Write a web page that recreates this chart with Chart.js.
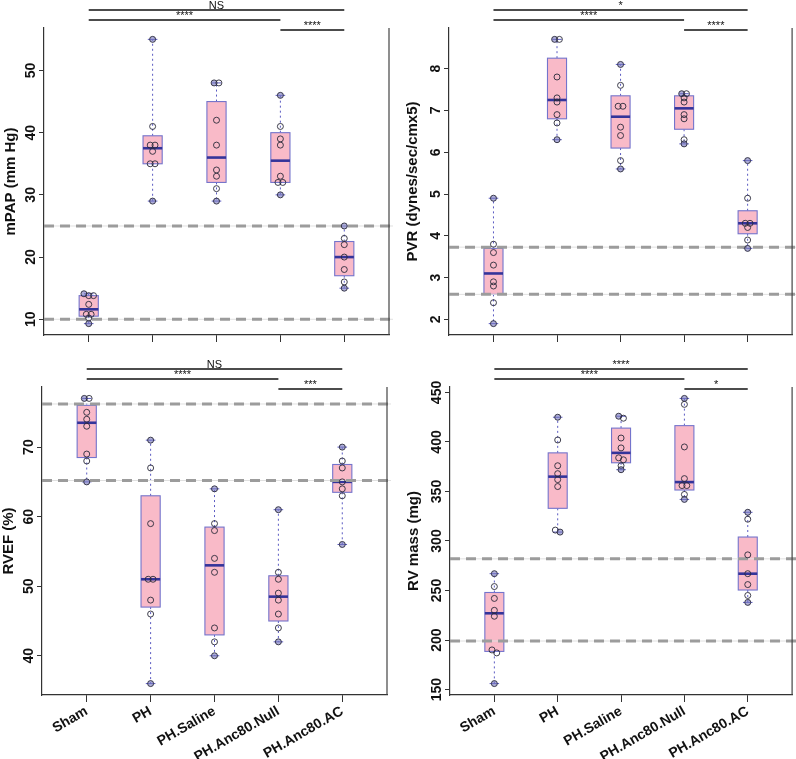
<!DOCTYPE html>
<html>
<head>
<meta charset="utf-8">
<script src="https://cdn.jsdelivr.net/npm/chart.js@4.4.0/dist/chart.umd.min.js"></script>
<style>
  body { margin: 0; background: #fff; width: 796px; height: 759px; position: relative; overflow: hidden; }
  canvas { position: absolute; }
</style>
</head>
<body>
<canvas id="c1" width="398" height="380" style="left:0;top:0"></canvas>
<canvas id="c2" width="396" height="380" style="left:400px;top:0"></canvas>
<canvas id="c3" width="398" height="404" style="left:0;top:355px"></canvas>
<canvas id="c4" width="396" height="404" style="left:400px;top:355px"></canvas>
<script>
// ─── DATA ────────────────────────────────────────────────
const groups = ['Sham', 'PH', 'PH.Saline', 'PH.Anc80.Null', 'PH.Anc80.AC'];
const sigPairs = [[1, 5], [1, 4], [4, 5]];

// mPAP (mm Hg)
const mpapSham   = [14.1, 13.8, 13.8, 12.4, 10.8, 10.8, 10.2, 9.3];
const mpapPH     = [55, 41, 38, 38, 37, 35, 35, 29];
const mpapSaline = [48, 48, 42, 38, 34, 33, 31, 29];
const mpapNull   = [46, 41, 39, 38, 33, 32, 32, 30];
const mpapAC     = [25, 23, 22, 20, 18, 16, 15];
const mpapTicks  = [10, 20, 30, 40, 50];
const mpapRef    = [25, 10];
const mpapSig    = ['NS', '****', '****'];

// PVR
const pvrSham   = [4.9, 3.8, 3.6, 3.3, 2.9, 2.8, 2.4, 1.9];
const pvrPH     = [8.7, 8.7, 7.8, 7.3, 7.2, 6.9, 6.7, 6.3];
const pvrSaline = [8.1, 7.6, 7.1, 7.1, 6.6, 6.4, 5.8, 5.6];
const pvrNull   = [7.4, 7.4, 7.3, 7.2, 6.9, 6.8, 6.3, 6.2];
const pvrAC     = [5.8, 4.9, 4.3, 4.3, 4.2, 3.9, 3.7];
const pvrTicks  = [2, 3, 4, 5, 6, 7, 8];
const pvrRef    = [3.73, 2.6];
const pvrSig    = ['*', '****', '****'];

// RVEF (%)
const rvefSham   = [77, 77, 75, 74, 73, 69, 68, 65];
const rvefPH     = [71, 67, 59, 51, 51, 48, 46, 36];
const rvefSaline = [64, 59, 58, 54, 52, 44, 42, 40];
const rvefNull   = [61, 52, 51, 49, 48, 46, 44, 42];
const rvefAC     = [70, 68, 67, 65, 64, 63, 56];
const rvefTicks  = [40, 50, 60, 70];
const rvefRef    = [76.2, 65.2];
const rvefSig    = ['NS', '****', '***'];

// RV mass (mg)
const rvmSham   = [267, 254, 242, 230, 224, 190, 187, 156];
const rvmPH     = [425, 402, 376, 368, 362, 355, 311, 309];
const rvmSaline = [426, 424, 404, 394, 384, 382, 376, 372];
const rvmNull   = [444, 438, 395, 363, 356, 356, 347, 342];
const rvmAC     = [329, 322, 286, 267, 256, 245, 238];
const rvmTicks  = [150, 200, 250, 300, 350, 400, 450];
const rvmRef    = [282, 199];
const rvmSig    = ['****', '****', '*'];

// ─── UTILS ───────────────────────────────────────────────
const FONT = "'Liberation Sans', Arial, sans-serif";

// Tukey five-number summary (same as R's boxplot hinges)
function fivenum(arr) {
  const s = [...arr].sort((a, b) => a - b), n = s.length;
  const n4 = Math.floor((n + 3) / 2) / 2;
  return [1, n4, (n + 1) / 2, n + 1 - n4, n]
    .map(d => 0.5 * (s[Math.floor(d) - 1] + s[Math.ceil(d) - 1]));
}

function line(ctx, x0, y0, x1, y1) {
  ctx.beginPath(); ctx.moveTo(x0, y0); ctx.lineTo(x1, y1); ctx.stroke();
}

// ─── BOX / DECOR PLUGIN ──────────────────────────────────
function makeDecor(stats, refs, sig, ticks) {
  return {
    id: 'decor',
    beforeDatasetsDraw(chart) {
      const { ctx, chartArea: a, scales: { x, y } } = chart;
      stats.forEach((st, gi) => {
        const cx = x.getPixelForValue(gi + 1);
        const hw = x.getPixelForValue(gi + 1.15) - cx;
        const [mn, q1, md, q3, mx] = st.map(v => y.getPixelForValue(v));
        ctx.save();
        ctx.strokeStyle = '#5a5ac2'; ctx.lineWidth = 1;
        ctx.setLineDash([2, 3]);
        line(ctx, cx, q3, cx, mx);
        line(ctx, cx, q1, cx, mn);
        ctx.setLineDash([]);
        line(ctx, cx - hw / 2, mx, cx + hw / 2, mx);
        line(ctx, cx - hw / 2, mn, cx + hw / 2, mn);
        ctx.fillStyle = '#f9bac8';
        ctx.fillRect(cx - hw, q3, 2 * hw, q1 - q3);
        ctx.strokeStyle = '#7474cc'; ctx.lineWidth = 1.1;
        ctx.strokeRect(cx - hw, q3, 2 * hw, q1 - q3);
        ctx.strokeStyle = '#34349a'; ctx.lineWidth = 2.6;
        line(ctx, cx - hw, md, cx + hw, md);
        ctx.restore();
      });
      // reference lines
      refs.forEach(v => {
        const py = y.getPixelForValue(v);
        ctx.save();
        ctx.strokeStyle = '#e0e0e0'; ctx.lineWidth = 1;
        line(ctx, a.left, py, a.right + 4, py);
        ctx.strokeStyle = '#9c9c9c'; ctx.lineWidth = 3;
        ctx.setLineDash([10, 6]);
        line(ctx, a.left, py, a.right + 4, py);
        ctx.restore();
      });
    },
    afterDraw(chart) {
      const { ctx, chartArea: a, scales: { x, y } } = chart;
      ctx.save();
      // right border
      ctx.strokeStyle = '#444'; ctx.lineWidth = 1.2;
      line(ctx, a.right, a.top, a.right, a.bottom);
      // rotated y tick labels
      ctx.fillStyle = '#111';
      ctx.font = 'bold 14px ' + FONT;
      ctx.textAlign = 'center'; ctx.textBaseline = 'middle';
      ticks.forEach(t => {
        ctx.save();
        ctx.translate(a.left - 13, y.getPixelForValue(t));
        ctx.rotate(-Math.PI / 2);
        ctx.fillText(String(t), 0, 0);
        ctx.restore();
      });
      // significance bars
      ctx.strokeStyle = '#111'; ctx.lineWidth = 1.3;
      ctx.font = '11px ' + FONT;
      ctx.textBaseline = 'bottom';
      sigPairs.forEach(([g0, g1], k) => {
        const py = a.top - 18 + 10 * k;
        const x0 = x.getPixelForValue(g0), x1 = x.getPixelForValue(g1);
        line(ctx, x0, py, x1, py);
        ctx.fillText(sig[k], (x0 + x1) / 2, py + 1);
      });
      ctx.restore();
    }
  };
}

// ─── PANEL ───────────────────────────────────────────────
function makePanel(id, series, ticks, refs, sig, title, lay) {
  const all = series.flat();
  const lo = Math.min(...all), hi = Math.max(...all), ext = 0.04 * (hi - lo);
  const tol = 0.01 * (hi - lo + 2 * ext);

  // points, near-equal values spread side by side
  const pts = [];
  series.forEach((vals, gi) => {
    const s = [...vals].sort((a, b) => b - a);
    let mn = s[s.length - 1], mx = s[0];
    let i = 0;
    while (i < s.length) {
      let j = i;
      while (j + 1 < s.length && s[j] - s[j + 1] < tol) j++;
      const n = j - i + 1;
      for (let k = 0; k < n; k++) {
        const v = s[i + k];
        let end = false;
        // only one point sits on each whisker cap
        if (v === mx) { end = true; mx = NaN; }
        else if (v === mn) { end = true; mn = NaN; }
        pts.push({ x: gi + 1 + (k - (n - 1) / 2) * 0.075, y: v, end });
      }
      i = j + 1;
    }
  });

  const stats = series.map(fivenum);

  new Chart(document.getElementById(id), {
    type: 'scatter',
    data: {
      datasets: [{
        data: pts,
        pointRadius: 3,
        pointHoverRadius: 3,
        borderWidth: 0.9,
        borderColor: '#2a2a3a',
        backgroundColor: c => (c.raw && c.raw.end) ? 'rgba(120,120,190,0.6)' : 'rgba(0,0,0,0)'
      }]
    },
    options: {
      responsive: false,
      animation: false,
      events: [],
      layout: { padding: { top: lay.top, right: lay.right, left: 0, bottom: 0 } },
      plugins: { legend: { display: false }, tooltip: { enabled: false } },
      scales: {
        x: {
          type: 'linear', min: 0.3, max: 5.7,
          afterBuildTicks: s => { s.ticks = groups.map((g, i) => ({ value: i + 1 })); },
          afterFit: s => { s.height = lay.xh; s.paddingLeft = 0; s.paddingRight = 0; },
          ticks: {
            autoSkip: false,
            minRotation: 30, maxRotation: 30,
            padding: 1,
            color: '#111',
            font: { family: FONT, size: 14, weight: 'bold' },
            callback: (v, i) => lay.labels ? groups[i] : ''
          },
          grid: { drawOnChartArea: false, tickLength: 7, color: '#333', lineWidth: 1 },
          border: { display: true, color: '#333', width: 1.2 }
        },
        y: {
          min: lo - ext, max: hi + ext,
          afterBuildTicks: s => { s.ticks = ticks.map(v => ({ value: v })); },
          afterFit: s => { s.width = lay.left; s.paddingTop = 0; s.paddingBottom = 0; },
          ticks: { callback: () => '' },
          grid: { drawOnChartArea: false, tickLength: 5, color: '#333', lineWidth: 1 },
          border: { display: true, color: '#333', width: 1.2 },
          title: {
            display: true, text: title, color: '#111',
            font: { family: FONT, size: 15, weight: 'bold' },
            padding: { top: lay.tp, bottom: 0 }
          }
        }
      }
    },
    plugins: [makeDecor(stats, refs, sig, ticks)]
  });
}

makePanel('c1', [mpapSham, mpapPH, mpapSaline, mpapNull, mpapAC], mpapTicks, mpapRef, mpapSig,
  'mPAP (mm Hg)', { top: 28, right: 9, left: 44, xh: 45, labels: false, tp: 2 });
makePanel('c2', [pvrSham, pvrPH, pvrSaline, pvrNull, pvrAC], pvrTicks, pvrRef, pvrSig,
  'PVR (dynes/sec/cmx5)', { top: 28, right: 2, left: 49, xh: 45, labels: false, tp: 4 });
makePanel('c3', [rvefSham, rvefPH, rvefSaline, rvefNull, rvefAC], rvefTicks, rvefRef, rvefSig,
  'RVEF (%)', { top: 32, right: 11, left: 42, xh: 64, labels: true, tp: 0 });
makePanel('c4', [rvmSham, rvmPH, rvmSaline, rvmNull, rvmAC], rvmTicks, rvmRef, rvmSig,
  'RV mass (mg)', { top: 32, right: 1, left: 50, xh: 64, labels: true, tp: 5 });
</script>
</body>
</html>
